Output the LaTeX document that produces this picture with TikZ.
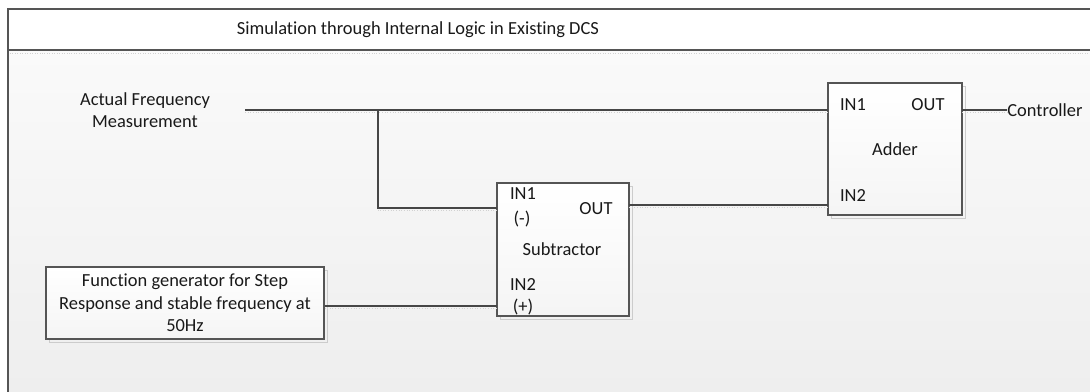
\documentclass[tikz,border=0pt]{standalone}
\usepackage{fontspec}
\setmainfont{Carlito}[Ligatures=NoCommon]
\definecolor{framegray}{RGB}{85,85,85}
\definecolor{wiregray}{RGB}{70,70,70}
\definecolor{bgtop}{RGB}{250,250,250}
\definecolor{bgbottom}{RGB}{238,238,238}

\begin{document}
\begin{tikzpicture}[x=0.02cm, y=-0.02cm,
    every node/.style={font=\fontsize{10.5}{12.7}\selectfont, text=black!90, inner sep=0pt},
    block/.style={draw=framegray, line width=0.7pt, top color=white, bottom color=gray!8},
    blockshadow/.style={draw=gray!40, line width=0.5pt},
    wire/.style={draw=wiregray, line width=0.6pt,
        preaction={draw=gray!35, densely dotted, line width=0.5pt, transform canvas={yshift=-1.2pt}}}
]
    \useasboundingbox (0,0) rectangle (1090,392);

    % Frame and header
    \fill[white] (0,0) rectangle (1090,50);
    \shade[top color=bgtop, bottom color=bgbottom] (8,50) rectangle (1090,392);
    \draw[framegray, line width=0.8pt] (1090,9) -- (8,9) -- (8,392);
    \draw[framegray, line width=0.8pt] (8,50) -- (1090,50);
    \draw[gray!35, densely dotted] (10,53) -- (1090,53);
    \node (title) at (418,30) {Simulation through Internal Logic in Existing DCS};

    % Signal sources
    \node[align=center] (afm) at (145,110) {Actual Frequency\\Measurement};
    \draw[blockshadow] (49,270) rectangle (327,342);
    \node[block, minimum width=5.56cm, minimum height=1.44cm, align=center] (fungen) at (185,303) {
        Function generator for Step\\
        Response and stable frequency at\\
        50Hz
    };

    % Subtractor block
    \draw[blockshadow] (500,186) rectangle (632,319);
    \node[block, minimum width=2.64cm, minimum height=2.66cm] (sub) at (563,249.5) {};
    \node (sub-in1) at (523,194) {IN1};
    \node (sub-minus) at (522,219) {(-)};
    \node (sub-out) at (596,209) {OUT};
    \node (sub-name) at (562,249) {Subtractor};
    \node (sub-in2) at (523,285) {IN2};
    \node (sub-plus) at (523,307) {(+)};

    % Adder block
    \draw[blockshadow] (831,86) rectangle (965,218);
    \node[block, minimum width=2.68cm, minimum height=2.64cm] (adder) at (895,149) {};
    \node (add-in1) at (853,105) {IN1};
    \node (add-out) at (928,105) {OUT};
    \node (add-name) at (895,149) {Adder};
    \node (add-in2) at (853,196) {IN2};

    \node[anchor=west] (ctrl) at (1007,110) {Controller};

    % Connectors
    \coordinate (afm-end) at (245,110);
    \coordinate (tap) at (378,110);
    \coordinate (s-in1) at (497,208);
    \coordinate (s-in2) at (497,306);
    \coordinate (s-out) at (629,205);
    \coordinate (a-in1) at (828,110);
    \coordinate (a-in2) at (828,205);
    \coordinate (a-out) at (962,110);

    \draw[wire] (afm-end) -- (a-in1);
    \draw[wire] (tap) |- (s-in1);
    \draw[wire] (fungen.east |- s-in2) -- (s-in2);
    \draw[wire] (s-out) -- (a-in2);
    \draw[wire] (a-out) -- (ctrl.west);

\end{tikzpicture}
\end{document}
